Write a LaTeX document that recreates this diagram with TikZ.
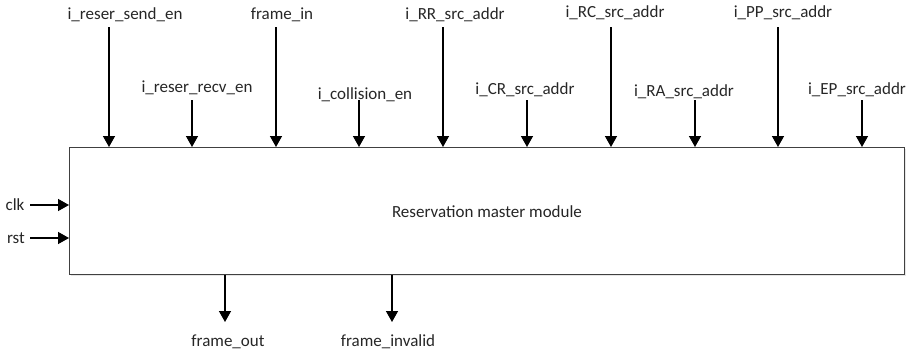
\documentclass[tikz,border=0pt]{standalone}
\usepackage{fontspec}
\setmainfont{Carlito}
\usetikzlibrary{arrows.meta,shadows}

\begin{document}
\begin{tikzpicture}[x=1pt,y=-1pt,
blk/.style = {draw=black!75,line width=0.9pt,fill=white,
  drop shadow={shadow xshift=2pt,shadow yshift=-2pt,opacity=0.2}},
lbl/.style = {font=\fontsize{17}{20}\selectfont,text=black!85,inner sep=0pt},
sig/.style = {draw,-{Triangle[length=11pt,width=12pt]},line width=1.4pt}
]
  \useasboundingbox (0,0) rectangle (911,354);

  \node[blk,minimum width=835pt,minimum height=127pt,anchor=north west] (rmm) at (69,147) {};
  \node[lbl] (title) at (487,212) {Reservation master module};

  % inputs on top
  \node[lbl] (sendEn) at (125,15) {i\_reser\_send\_en};
  \node[lbl] (recvEn) at (197,88) {i\_reser\_recv\_en};
  \node[lbl] (frmIn) at (282,15) {frame\_in};
  \node[lbl] (collEn) at (365,95) {i\_collision\_en};
  \node[lbl] (rrAddr) at (455,15) {i\_RR\_src\_addr};
  \node[lbl] (crAddr) at (525,90) {i\_CR\_src\_addr};
  \node[lbl] (rcAddr) at (615,13) {i\_RC\_src\_addr};
  \node[lbl] (raAddr) at (684,92) {i\_RA\_src\_addr};
  \node[lbl] (ppAddr) at (783,13) {i\_PP\_src\_addr};
  \node[lbl] (epAddr) at (857,90) {i\_EP\_src\_addr};

  \coordinate (sendEnS) at (109,27);
  \coordinate (recvEnS) at (192,100);
  \coordinate (frmInS) at (276,27);
  \coordinate (collEnS) at (359,100);
  \coordinate (rrAddrS) at (443,27);
  \coordinate (crAddrS) at (527,100);
  \coordinate (rcAddrS) at (611,27);
  \coordinate (raAddrS) at (695,100);
  \coordinate (ppAddrS) at (778,27);
  \coordinate (epAddrS) at (862,100);

  \path[sig] (sendEnS) -- (sendEnS |- rmm.north);
  \path[sig] (recvEnS) -- (recvEnS |- rmm.north);
  \path[sig] (frmInS) -- (frmInS |- rmm.north);
  \path[sig] (collEnS) -- (collEnS |- rmm.north);
  \path[sig] (rrAddrS) -- (rrAddrS |- rmm.north);
  \path[sig] (crAddrS) -- (crAddrS |- rmm.north);
  \path[sig] (rcAddrS) -- (rcAddrS |- rmm.north);
  \path[sig] (raAddrS) -- (raAddrS |- rmm.north);
  \path[sig] (ppAddrS) -- (ppAddrS |- rmm.north);
  \path[sig] (epAddrS) -- (epAddrS |- rmm.north);

  % clock and reset
  \node[lbl] (clk) at (15,205) {clk};
  \node[lbl] (rst) at (16,238) {rst};
  \coordinate (clkS) at (30,205);
  \coordinate (rstS) at (30,238);
  \path[sig] (clkS) -- (clkS -| rmm.west);
  \path[sig] (rstS) -- (rstS -| rmm.west);

  % outputs
  \node[lbl] (frmOut) at (228,342) {frame\_out};
  \node[lbl] (frmInv) at (388,342) {frame\_invalid};
  \coordinate (frmOutE) at (225,322);
  \coordinate (frmInvE) at (392,322);
  \path[sig] (frmOutE |- rmm.south) -- (frmOutE);
  \path[sig] (frmInvE |- rmm.south) -- (frmInvE);

\end{tikzpicture}
\end{document}
